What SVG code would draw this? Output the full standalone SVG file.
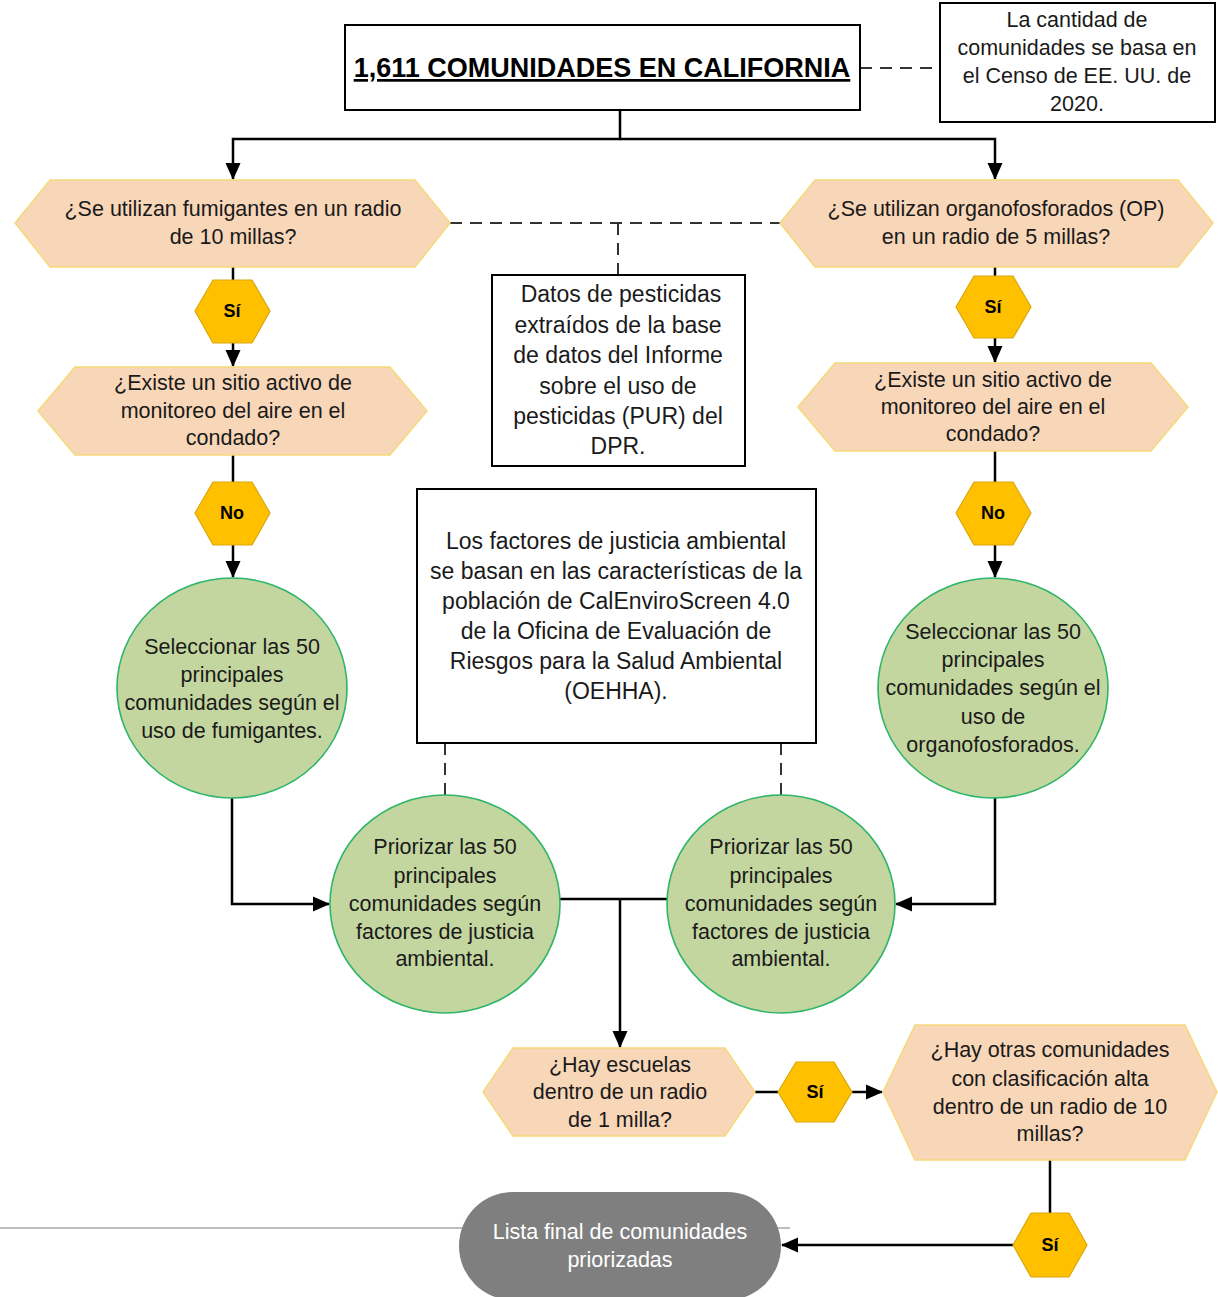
<svg xmlns="http://www.w3.org/2000/svg" width="1218" height="1297" viewBox="0 0 1218 1297">
<style>
text{font-family:"Liberation Sans",Arial,sans-serif;fill:#1a1a1a;text-anchor:middle}
.q{fill:#f8d6b8;stroke:#f5d97a;stroke-width:1.5}
.y{fill:#ffc000;stroke:#d9a80a;stroke-width:1.2}
.c{fill:#c4d69f;stroke:#2fb56a;stroke-width:1.6}
.b{fill:#fff;stroke:#000;stroke-width:2}
.t{font-size:21.5px}
.e{font-size:23px}
.l{font-size:18px;font-weight:bold;fill:#000}
.k{fill:none;stroke:#000;stroke-width:2.5}
.d{fill:none;stroke:#333;stroke-width:2;stroke-dasharray:12 8}
</style>
<defs>
<marker id="a" markerUnits="userSpaceOnUse" markerWidth="18" markerHeight="18" viewBox="0 0 18 18" refX="16" refY="9" orient="auto">
<path d="M0,1.5 L17,9 L0,16.5 Z" fill="#000"/>
</marker>
</defs>
<line x1="0" y1="1228" x2="790" y2="1228" stroke="#bdbdbd" stroke-width="2"/>
<g id="connectors">
<path class="k" d="M620,110 V139 H233 V179" marker-end="url(#a)"/>
<path class="k" d="M620,139 H995 V179" marker-end="url(#a)"/>
<path class="k" d="M233,267 V280"/>
<path class="k" d="M233,343 V366" marker-end="url(#a)"/>
<path class="k" d="M233,455 V482"/>
<path class="k" d="M233,545 V577" marker-end="url(#a)"/>
<path class="k" d="M995,267 V276"/>
<path class="k" d="M995,338 V362" marker-end="url(#a)"/>
<path class="k" d="M995,451 V482"/>
<path class="k" d="M995,545 V577" marker-end="url(#a)"/>
<path class="k" d="M232,798 V904 H329" marker-end="url(#a)"/>
<path class="k" d="M995,798 V904 H896" marker-end="url(#a)"/>
<path class="k" d="M560,899 H667"/>
<path class="k" d="M620,899 V1047" marker-end="url(#a)"/>
<path class="k" d="M755,1092 H778"/>
<path class="k" d="M852,1092 H882" marker-end="url(#a)"/>
<path class="k" d="M1050,1160 V1213"/>
<path class="k" d="M1013,1245 H782" marker-end="url(#a)"/>
<path class="d" d="M860,68 H940"/>
<path class="d" d="M450,223 H780"/>
<path class="d" d="M618,223 V275"/>
<path class="d" d="M445,743 V795"/>
<path class="d" d="M781,743 V795"/>
</g>
<g id="n-title">
<rect class="b" x="345" y="25" width="515" height="85" stroke-width="1.5"/>
<text x="602" y="77" style="font-size:27px;font-weight:bold;text-decoration:underline;fill:#000">1,611 COMUNIDADES EN CALIFORNIA</text>
</g>
<g id="n-note-census">
<rect class="b" x="940" y="3" width="275" height="119" stroke-width="2.5"/>
<text class="t" x="1077" y="27">La cantidad de</text>
<text class="t" x="1077" y="55">comunidades se basa en</text>
<text class="t" x="1077" y="83">el Censo de EE. UU. de</text>
<text class="t" x="1077" y="111">2020.</text>
</g>
<g id="n-q-fum">
<polygon class="q" points="15,223 50,180 415,180 450,223 415,267 50,267"/>
<text class="t" x="233" y="216">¿Se utilizan fumigantes en un radio</text>
<text class="t" x="233" y="244">de 10 millas?</text>
</g>
<g id="n-q-op">
<polygon class="q" points="780,223 815,180 1178,180 1213,223 1178,267 815,267"/>
<text class="t" x="996" y="216">¿Se utilizan organofosforados (OP)</text>
<text class="t" x="996" y="244">en un radio de 5 millas?</text>
</g>
<g id="n-note-dpr">
<rect class="b" x="492" y="275" width="253" height="191" stroke-width="2.5"/>
<text class="e" x="621" y="302">Datos de pesticidas</text>
<text class="e" x="618" y="333">extraídos de la base</text>
<text class="e" x="618" y="363">de datos del Informe</text>
<text class="e" x="618" y="394">sobre el uso de</text>
<text class="e" x="618" y="424">pesticidas (PUR) del</text>
<text class="e" x="618" y="454">DPR.</text>
</g>
<g id="n-si-1">
<polygon class="y" points="195,311 213,280 252,280 270,311 252,343 213,343"/>
<text class="l" x="232" y="317">Sí</text>
</g>
<g id="n-si-2">
<polygon class="y" points="956,307 974,276 1013,276 1031,307 1013,338 974,338"/>
<text class="l" x="993" y="313">Sí</text>
</g>
<g id="n-q-air-l">
<polygon class="q" points="38,411 75,367 390,367 427,411 390,455 75,455"/>
<text class="t" x="233" y="390">¿Existe un sitio activo de</text>
<text class="t" x="233" y="418">monitoreo del aire en el</text>
<text class="t" x="233" y="445">condado?</text>
</g>
<g id="n-q-air-r">
<polygon class="q" points="798,407 835,363 1151,363 1188,407 1151,451 835,451"/>
<text class="t" x="993" y="387">¿Existe un sitio activo de</text>
<text class="t" x="993" y="414">monitoreo del aire en el</text>
<text class="t" x="993" y="441">condado?</text>
</g>
<g id="n-no-1">
<polygon class="y" points="195,513 213,482 252,482 270,513 252,545 213,545"/>
<text class="l" x="232" y="519">No</text>
</g>
<g id="n-no-2">
<polygon class="y" points="956,513 974,482 1013,482 1031,513 1013,545 974,545"/>
<text class="l" x="993" y="519">No</text>
</g>
<g id="n-note-ej">
<rect class="b" x="417" y="489" width="399" height="254" stroke-width="2.5"/>
<text class="e" x="616" y="549">Los factores de justicia ambiental</text>
<text class="e" x="616" y="579">se basan en las características de la</text>
<text class="e" x="616" y="609">población de CalEnviroScreen 4.0</text>
<text class="e" x="616" y="639">de la Oficina de Evaluación de</text>
<text class="e" x="616" y="669">Riesgos para la Salud Ambiental</text>
<text class="e" x="616" y="699">(OEHHA).</text>
</g>
<g id="n-sel-fum">
<ellipse class="c" cx="232" cy="688" rx="115" ry="110"/>
<text class="t" x="232" y="654">Seleccionar las 50</text>
<text class="t" x="232" y="682">principales</text>
<text class="t" x="232" y="710">comunidades según el</text>
<text class="t" x="232" y="738">uso de fumigantes.</text>
</g>
<g id="n-sel-op">
<ellipse class="c" cx="993" cy="688" rx="115" ry="110"/>
<text class="t" x="993" y="639">Seleccionar las 50</text>
<text class="t" x="993" y="667">principales</text>
<text class="t" x="993" y="695">comunidades según el</text>
<text class="t" x="993" y="724">uso de</text>
<text class="t" x="993" y="752">organofosforados.</text>
</g>
<g id="n-pri-l">
<ellipse class="c" cx="445" cy="904" rx="115" ry="109"/>
<text class="t" x="445" y="854">Priorizar las 50</text>
<text class="t" x="445" y="883">principales</text>
<text class="t" x="445" y="911">comunidades según</text>
<text class="t" x="445" y="939">factores de justicia</text>
<text class="t" x="445" y="966">ambiental.</text>
</g>
<g id="n-pri-r">
<ellipse class="c" cx="781" cy="904" rx="114" ry="109"/>
<text class="t" x="781" y="854">Priorizar las 50</text>
<text class="t" x="781" y="883">principales</text>
<text class="t" x="781" y="911">comunidades según</text>
<text class="t" x="781" y="939">factores de justicia</text>
<text class="t" x="781" y="966">ambiental.</text>
</g>
<g id="n-q-schools">
<polygon class="q" points="483,1092 513,1048 725,1048 755,1092 725,1136 513,1136"/>
<text class="t" x="620" y="1072">¿Hay escuelas</text>
<text class="t" x="620" y="1099">dentro de un radio</text>
<text class="t" x="620" y="1127">de 1 milla?</text>
</g>
<g id="n-si-3">
<polygon class="y" points="778,1092 796,1062 834,1062 852,1092 834,1122 796,1122"/>
<text class="l" x="815" y="1098">Sí</text>
</g>
<g id="n-q-other">
<polygon class="q" points="883,1092 915,1025 1185,1025 1217,1092 1185,1160 915,1160"/>
<text class="t" x="1050" y="1057">¿Hay otras comunidades</text>
<text class="t" x="1050" y="1086">con clasificación alta</text>
<text class="t" x="1050" y="1114">dentro de un radio de 10</text>
<text class="t" x="1050" y="1141">millas?</text>
</g>
<g id="n-si-4">
<polygon class="y" points="1013,1245 1031,1213 1069,1213 1087,1245 1069,1277 1031,1277"/>
<text class="l" x="1050" y="1251">Sí</text>
</g>
<g id="n-final">
<rect x="459" y="1192" width="322" height="108" rx="54" fill="#7f7f7f"/>
<text class="t" x="620" y="1239" style="fill:#fff">Lista final de comunidades</text>
<text class="t" x="620" y="1267" style="fill:#fff">priorizadas</text>
</g>
</svg>
